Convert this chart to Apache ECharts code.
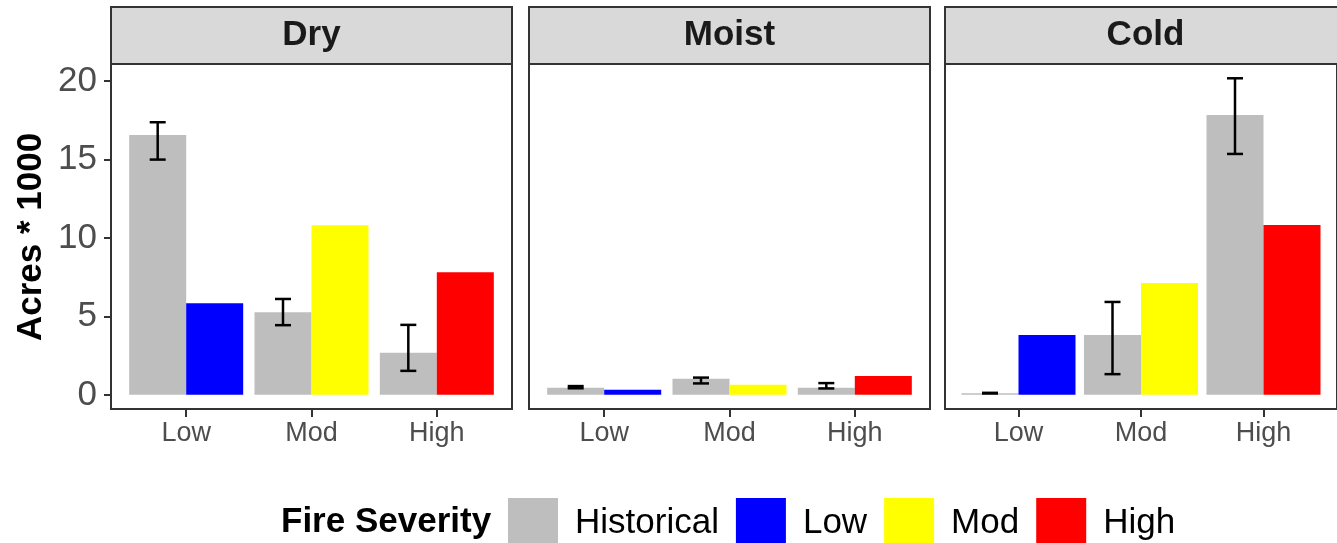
<!DOCTYPE html>
<html>
<head>
<meta charset="utf-8">
<script src="https://cdn.jsdelivr.net/npm/echarts@6/dist/echarts.min.js"></script>
<style>
html,body{margin:0;padding:0;background:#fff;}
#chart{width:1337px;height:543px;}
</style>
</head>
<body>
<div id="chart"></div>
<script>
// ---- data ----
const categories = ['Low', 'Mod', 'High'];
const panels = ['Dry', 'Moist', 'Cold'];
const legendNames = ['Historical', 'Low', 'Mod', 'High'];
const yTicks = [0, 5, 10, 15, 20];

const dryHistorical = [16.56, 5.27, 2.68];
const dryCurrent = [5.84, 10.81, 7.82];
const dryErrLow = [14.99, 4.44, 1.53];
const dryErrHigh = [17.37, 6.11, 4.46];

const moistHistorical = [0.45, 1.02, 0.45];
const moistCurrent = [0.32, 0.64, 1.21];
const moistErrLow = [0.42, 0.73, 0.41];
const moistErrHigh = [0.56, 1.10, 0.75];

const coldHistorical = [0.11, 3.82, 17.83];
const coldCurrent = [3.82, 7.13, 10.83];
const coldErrLow = [0.09, 1.32, 15.35];
const coldErrHigh = [0.13, 5.92, 20.17];

// ---- styles ----
const colors = { Historical: '#BEBEBE', Low: '#0000FF', Mod: '#FFFF00', High: '#FF0000' };
const FONT = '"Liberation Sans", Arial, sans-serif';
const BAR_W = 57;
const CAP = 8;

const panelData = [
  { hist: dryHistorical, cur: dryCurrent, lo: dryErrLow, hi: dryErrHigh },
  { hist: moistHistorical, cur: moistCurrent, lo: moistErrLow, hi: moistErrHigh },
  { hist: coldHistorical, cur: coldCurrent, lo: coldErrLow, hi: coldErrHigh }
];
const panelLeft = [111, 529, 945];
const panelW = 401, plotTop = 64, plotH = 345;
const stripTop = 7;

const grids = [], xAxes = [], yAxes = [], series = [], graphics = [];
const catPos = categories.map((c, i) => i + 1);

panels.forEach((p, pi) => {
  grids.push({
    left: panelLeft[pi], top: plotTop, width: panelW, height: plotH,
    show: true, borderColor: '#333333', borderWidth: 2, backgroundColor: '#ffffff'
  });
  xAxes.push({
    type: 'value', gridIndex: pi, min: 0.4, max: 3.6, position: 'bottom',
    axisLine: { show: false, onZero: false },
    splitLine: { show: false },
    axisTick: { show: true, inside: false, length: 8, customValues: catPos, lineStyle: { color: '#333333', width: 2 } },
    axisLabel: {
      show: true, customValues: catPos, margin: 11,
      formatter: v => categories[Math.round(v) - 1] || '',
      color: '#4D4D4D', fontSize: 27, fontFamily: FONT
    }
  });
  yAxes.push({
    type: 'value', gridIndex: pi, min: -0.9, max: 21.08, position: 'left',
    axisLine: { show: false, onZero: false },
    splitLine: { show: false },
    axisTick: { show: pi === 0, length: 7, customValues: yTicks, lineStyle: { color: '#333333', width: 2 } },
    axisLabel: {
      show: pi === 0, customValues: yTicks, margin: 14,
      color: '#4D4D4D', fontSize: 35, fontFamily: FONT
    }
  });
  const d = panelData[pi];
  series.push({
    type: 'bar', name: 'Historical', xAxisIndex: pi, yAxisIndex: pi,
    barWidth: BAR_W, barGap: '0%',
    itemStyle: { color: colors.Historical },
    data: d.hist.map((v, i) => [catPos[i], v])
  });
  categories.forEach((c, ci) => {
    series.push({
      type: 'bar', name: c, xAxisIndex: pi, yAxisIndex: pi,
      stack: 'cur' + pi, barWidth: BAR_W, barGap: '0%',
      itemStyle: { color: colors[c] },
      data: d.cur.map((v, i) => [catPos[i], i === ci ? v : '-'])
    });
  });
  series.push({
    type: 'custom', name: 'SE', xAxisIndex: pi, yAxisIndex: pi, z: 10,
    encode: { x: 0, y: [1, 2] },
    data: d.lo.map((v, i) => [catPos[i], v, d.hi[i]]),
    renderItem: function (params, api) {
      const c = api.value(0);
      const top = api.coord([c, api.value(2)]);
      const bot = api.coord([c, api.value(1)]);
      const x = top[0] - BAR_W / 2;
      const st = { stroke: '#000000', lineWidth: 2.5, fill: null };
      return {
        type: 'group', children: [
          { type: 'line', shape: { x1: x, y1: top[1], x2: x, y2: bot[1] }, style: st },
          { type: 'line', shape: { x1: x - CAP, y1: top[1], x2: x + CAP, y2: top[1] }, style: st },
          { type: 'line', shape: { x1: x - CAP, y1: bot[1], x2: x + CAP, y2: bot[1] }, style: st }
        ]
      };
    }
  });
  // facet strip
  graphics.push({
    type: 'rect', z: 5,
    shape: { x: panelLeft[pi], y: stripTop, width: panelW, height: plotTop - stripTop },
    style: { fill: '#D9D9D9', stroke: '#333333', lineWidth: 2 }
  });
  graphics.push({
    type: 'text', z: 6,
    x: panelLeft[pi] + panelW / 2, y: (stripTop + plotTop) / 2,
    style: {
      text: p, fill: '#1A1A1A', font: 'bold 35px ' + FONT,
      textAlign: 'center', textVerticalAlign: 'middle'
    }
  });
});

// y axis title
graphics.push({
  type: 'text', x: 31, y: 237, rotation: Math.PI / 2,
  style: {
    text: 'Acres * 1000', fill: '#000000', font: 'bold 35px ' + FONT,
    textAlign: 'center', textVerticalAlign: 'middle'
  }
});
// legend title
graphics.push({
  type: 'text', x: 281, y: 522,
  style: {
    text: 'Fire Severity', fill: '#000000', font: 'bold 35px ' + FONT,
    textAlign: 'left', textVerticalAlign: 'middle'
  }
});

const chart = echarts.init(document.getElementById('chart'), null, { renderer: 'canvas' });
chart.setOption({
  animation: false,
  backgroundColor: '#ffffff',
  grid: grids,
  xAxis: xAxes,
  yAxis: yAxes,
  legend: {
    data: legendNames.map(n => ({ name: n, icon: 'rect', itemStyle: { color: colors[n] } })),
    left: 508, top: 498, orient: 'horizontal', padding: 0,
    itemWidth: 50, itemHeight: 50, itemGap: 17,
    selectedMode: false,
    textStyle: { fontSize: 35, color: '#000000', fontFamily: FONT, padding: [0, 0, 0, 12] }
  },
  graphic: graphics,
  series: series
});
</script>
</body>
</html>
